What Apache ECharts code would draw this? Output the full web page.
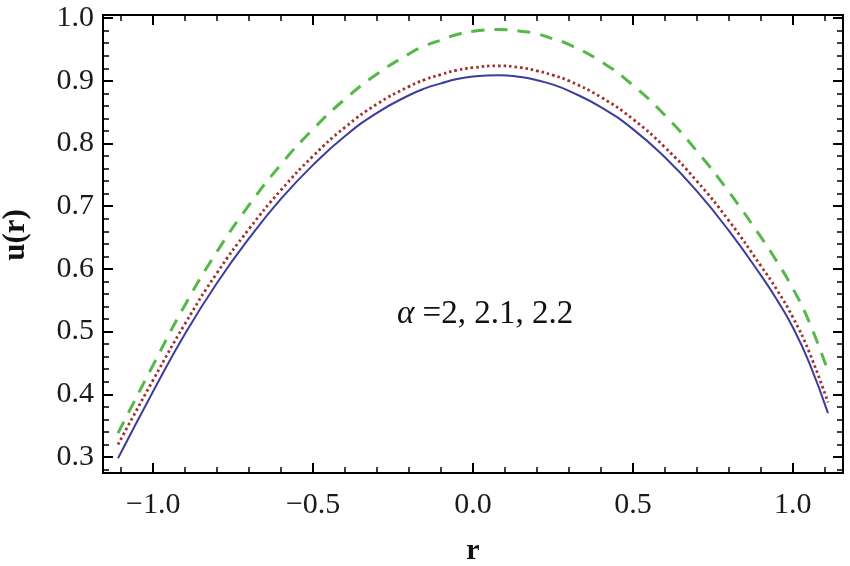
<!DOCTYPE html>
<html>
<head>
<meta charset="utf-8">
<script src="https://cdn.jsdelivr.net/npm/echarts@6/dist/echarts.min.js"></script>
<style>
  html, body { margin: 0; padding: 0; background: #ffffff; }
  #main { width: 850px; height: 566px; }
</style>
</head>
<body>
<div id="main"></div>
<script>
// r values
var rVals = [-1.11, -1.0, -0.9, -0.8, -0.7, -0.6, -0.5, -0.4, -0.3, -0.2, -0.15, -0.1, -0.05, 0.0,
             0.08, 0.15, 0.2, 0.25, 0.3, 0.4, 0.5, 0.6, 0.7, 0.8, 0.9, 0.95, 1.0, 1.05, 1.11];
// alpha = 2 (blue, solid)
var uAlpha20 = [0.298, 0.405, 0.497, 0.578, 0.649, 0.712, 0.766, 0.812, 0.849, 0.877, 0.888, 0.896, 0.903, 0.907,
                0.909, 0.906, 0.901, 0.894, 0.884, 0.858, 0.823, 0.778, 0.724, 0.661, 0.590, 0.551, 0.507, 0.452, 0.370];
// alpha = 2.1 (red, dotted)
var uAlpha21 = [0.320, 0.423, 0.513, 0.594, 0.664, 0.726, 0.780, 0.826, 0.863, 0.891, 0.902, 0.910, 0.917, 0.921,
                0.924, 0.921, 0.916, 0.909, 0.900, 0.874, 0.839, 0.794, 0.740, 0.677, 0.605, 0.567, 0.523, 0.469, 0.387];
// alpha = 2.2 (green, dashed)
var uAlpha22 = [0.338, 0.447, 0.543, 0.628, 0.702, 0.767, 0.823, 0.871, 0.911, 0.943, 0.956, 0.965, 0.974, 0.979,
                0.982, 0.979, 0.975, 0.967, 0.958, 0.931, 0.893, 0.845, 0.788, 0.723, 0.651, 0.612, 0.569, 0.517, 0.437];

function pairs(ys) {
  var out = [];
  for (var i = 0; i < rVals.length; i++) {
    out.push([rVals[i], ys[i]]);
  }
  return out;
}

var xMin = -1.157, xMax = 1.157;
var yMin = 0.2745, yMax = 1.005;
var labelFont = "'Liberation Serif', 'Times New Roman', serif";

function tenthLabel(v) {
  // only show the round tick values, hide the frame ends
  if (Math.abs(v * 10 - Math.round(v * 10)) < 1e-6) {
    return v.toFixed(1).replace('-', '\u2212');
  }
  return '';
}
function halfLabel(v) {
  if (Math.abs(v * 2 - Math.round(v * 2)) < 1e-6) {
    return v.toFixed(1).replace('-', '\u2212');
  }
  return '';
}

function frameAxis(extra) {
  var base = {
    type: 'value',
    axisLine: { show: true, onZero: false, lineStyle: { color: '#000', width: 2 } },
    axisTick: { show: true, inside: true, length: 10, lineStyle: { color: '#000', width: 2 } },
    minorTick: { show: true, splitNumber: 5, length: 6, lineStyle: { color: '#000', width: 1.5 } },
    splitLine: { show: false },
    minorSplitLine: { show: false }
  };
  for (var k in extra) base[k] = extra[k];
  return base;
}

var chart = echarts.init(document.getElementById('main'));
chart.setOption({
  backgroundColor: '#ffffff',
  animation: false,
  grid: {
    left: 103,
    right: 7,
    top: 15,
    bottom: 93,
    containLabel: false,
    outerBoundsMode: 'none'
  },
  xAxis: [
    frameAxis({
      position: 'bottom',
      min: xMin,
      max: xMax,
      splitNumber: 5,
      name: 'r',
      nameLocation: 'middle',
      nameGap: 63,
      nameTextStyle: { fontFamily: labelFont, fontWeight: 'bold', fontSize: 30, color: '#111' },
      axisLabel: {
        margin: 17,
        fontFamily: labelFont,
        fontSize: 30,
        color: '#1a1a1a',
        formatter: halfLabel
      }
    }),
    frameAxis({
      position: 'top',
      min: xMin,
      max: xMax,
      splitNumber: 5,
      axisLabel: { show: false }
    })
  ],
  yAxis: [
    frameAxis({
      position: 'left',
      min: yMin,
      max: yMax,
      splitNumber: 7,
      name: 'u(r)',
      nameLocation: 'middle',
      nameGap: 72,
      nameRotate: 90,
      nameTextStyle: { fontFamily: labelFont, fontWeight: 'bold', fontSize: 31, color: '#111', padding: [0, 0, 0, 18] },
      axisLabel: {
        margin: 9,
        fontFamily: labelFont,
        fontSize: 30,
        color: '#1a1a1a',
        formatter: tenthLabel
      }
    }),
    frameAxis({
      position: 'right',
      min: yMin,
      max: yMax,
      splitNumber: 7,
      axisLabel: { show: false }
    })
  ],
  series: [
    {
      name: 'alpha=2',
      type: 'line',
      smooth: true,
      symbol: 'none',
      xAxisIndex: 0,
      yAxisIndex: 0,
      data: pairs(uAlpha20),
      lineStyle: { color: '#3c3c9c', width: 2 },
      z: 3
    },
    {
      name: 'alpha=2.1',
      type: 'line',
      smooth: true,
      symbol: 'none',
      xAxisIndex: 0,
      yAxisIndex: 0,
      data: pairs(uAlpha21),
      lineStyle: { color: '#a0302e', width: 2.8, type: [2.5, 3] },
      z: 4
    },
    {
      name: 'alpha=2.2',
      type: 'line',
      smooth: true,
      symbol: 'none',
      xAxisIndex: 0,
      yAxisIndex: 0,
      data: pairs(uAlpha22),
      lineStyle: { color: '#55b848', width: 3, type: [13, 10] },
      z: 5
    }
  ],
  graphic: [
    {
      type: 'text',
      left: 397,
      top: 298,
      style: {
        text: '{a|\u03b1} =2, 2.1, 2.2',
        font: "33px 'Liberation Serif', 'Times New Roman', serif",
        fill: '#111',
        rich: {
          a: { fontFamily: labelFont, fontStyle: 'italic', fontSize: 33, fill: '#111' }
        }
      }
    }
  ]
});
</script>
</body>
</html>
